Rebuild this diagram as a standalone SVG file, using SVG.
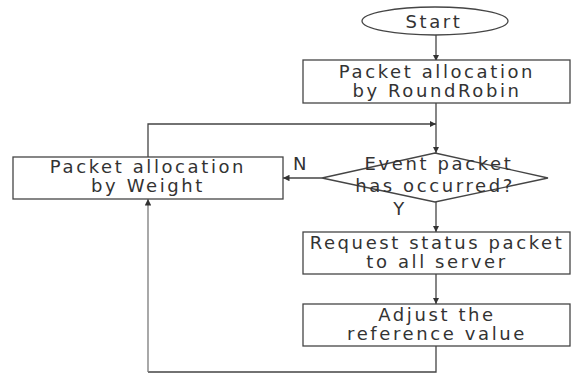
<svg xmlns="http://www.w3.org/2000/svg" width="575" height="376" viewBox="0 0 575 376">
<style>
.box{fill:#fff;stroke:#454545;stroke-width:1.3}
.t{font-family:"DejaVu Sans","Liberation Sans",sans-serif;font-size:18px;fill:#333;text-anchor:middle;letter-spacing:2.6px}
.c{fill:none;stroke:#444;stroke-width:1.3}
</style>
<defs>
<marker id="a" viewBox="0 0 6 6" refX="6" refY="3" markerWidth="5" markerHeight="5" orient="auto"><path d="M0,0L6,3L0,6z" fill="#333"/></marker>
</defs>
<rect width="575" height="376" fill="#fff"/>
<g id="connectors">
<path class="c" d="M436,35V61" marker-end="url(#a)"/>
<path class="c" d="M436,103V153" marker-end="url(#a)"/>
<path class="c" d="M148,157V124H436" marker-end="url(#a)"/>
<path class="c" d="M322,178H283" marker-end="url(#a)"/>
<path class="c" d="M436,202V232" marker-end="url(#a)"/>
<path class="c" d="M436,274V304" marker-end="url(#a)"/>
<path class="c" d="M436,346V372H148"/>
<path class="c" d="M148,372V199" style="stroke:#7a7a7a" marker-end="url(#a)"/>
</g>
<g id="start"><ellipse class="box" cx="435" cy="21" rx="73" ry="14"/><text class="t" x="434" y="28">Start</text></g>
<g id="roundrobin"><rect class="box" x="303" y="60" width="267" height="43"/><text class="t" x="437" y="78">Packet allocation</text><text class="t" x="437" y="97">by RoundRobin</text></g>
<g id="weight"><rect class="box" x="13" y="157" width="270" height="42"/><text class="t" x="148" y="173">Packet allocation</text><text class="t" x="148" y="192">by Weight</text></g>
<g id="decision"><path class="box" d="M435,153L548,178L435,202L322,178z"/><text class="t" x="439" y="170">Event packet</text><text class="t" x="435" y="192">has occurred?</text></g>
<g id="request"><rect class="box" x="303" y="232" width="267" height="42"/><text class="t" x="437" y="249">Request status packet</text><text class="t" x="437" y="268">to all server</text></g>
<g id="adjust"><rect class="box" x="303" y="304" width="267" height="42"/><text class="t" x="437" y="321">Adjust the</text><text class="t" x="437" y="340">reference value</text></g>
<g id="labels"><text class="t" x="301" y="170">N</text><text class="t" x="400" y="215">Y</text></g>
</svg>
